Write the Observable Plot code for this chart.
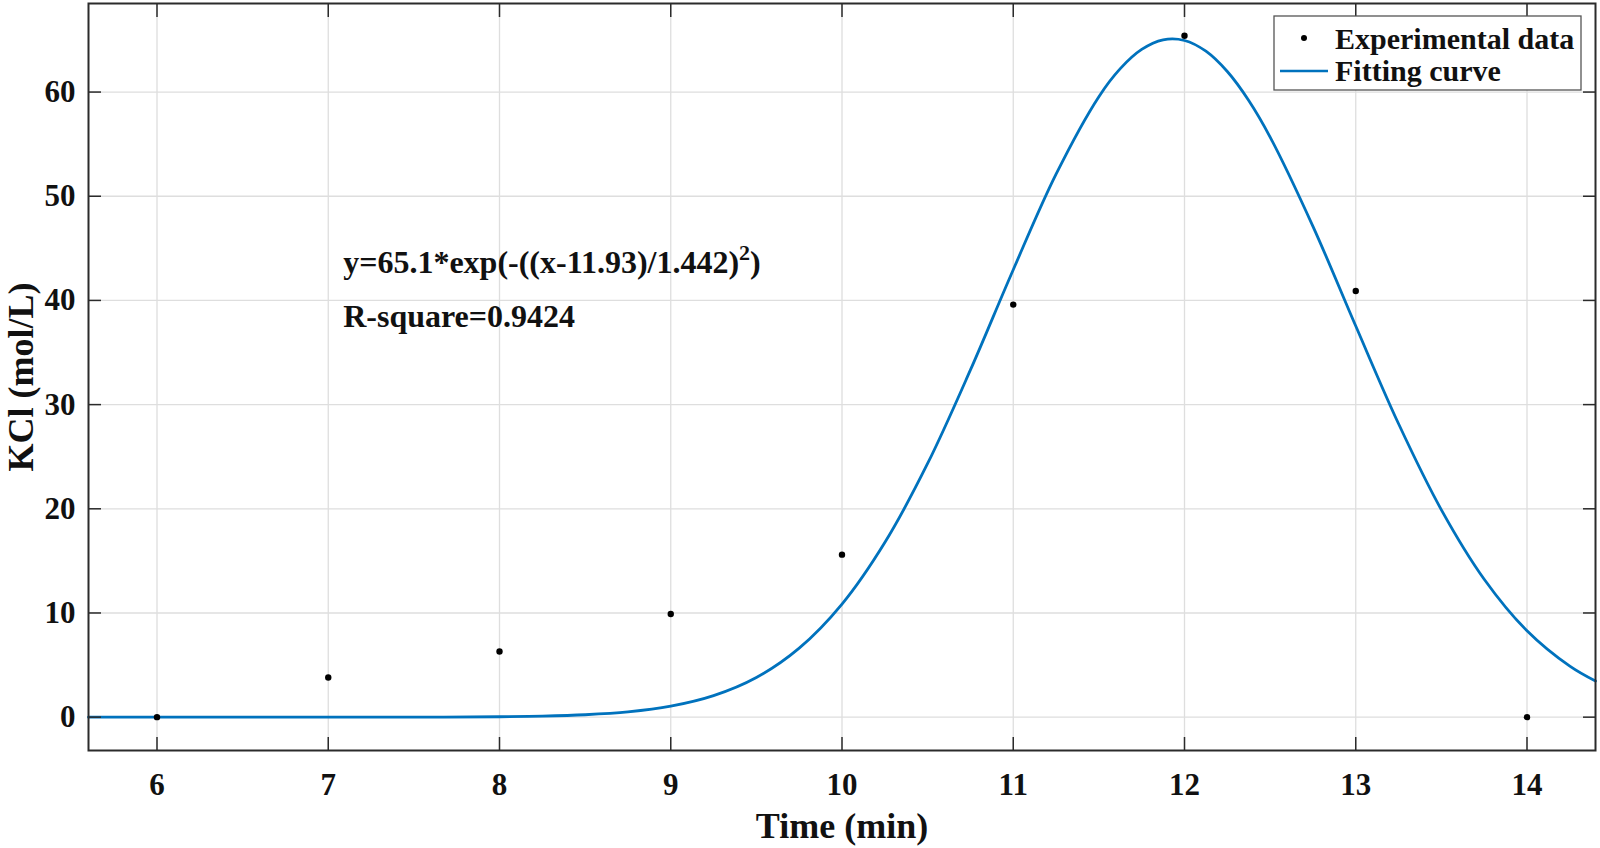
<!DOCTYPE html>
<html><head><meta charset="utf-8">
<script src="https://cdn.jsdelivr.net/npm/d3@7"></script>
<script src="https://cdn.jsdelivr.net/npm/@observablehq/plot@0.6"></script>
<style>body{margin:0;background:#fff} svg{display:block}</style>
</head><body><div id="chart"></div>
<script>
const expTime = [6, 7, 8, 9, 10, 11, 12, 13, 14];
const expKCl  = [0, 3.8, 6.3, 9.9, 15.6, 39.6, 65.4, 40.9, 0];

// Fitting curve samples
const fitTime = [5.6, 6, 6.5, 7, 7.5, 8, 8.25, 8.5, 8.75, 9, 9.25, 9.5, 9.75, 10, 10.25, 10.5, 10.75, 11, 11.25, 11.5, 11.625, 11.75, 11.875, 12, 12.125, 12.25, 12.375, 12.5, 12.75, 13, 13.25, 13.5, 13.75, 14, 14.25, 14.4];
const fitKCl  = [0, 0, 0, 0, 0.001, 0.04, 0.10, 0.23, 0.50, 1.05, 2.06, 3.80, 6.62, 10.85, 16.76, 24.35, 33.33, 42.95, 52.12, 59.56, 62.25, 64.09, 65.01, 64.95, 63.92, 61.97, 59.19, 55.68, 47.11, 37.54, 28.16, 19.90, 13.24, 8.29, 4.89, 3.46];

const xTicks = [6, 7, 8, 9, 10, 11, 12, 13, 14];
const yTicks = [0, 10, 20, 30, 40, 50, 60];

const xLabel = "Time (min)";
const yLabel = "KCl (mol/L)";
const legendLabels = ["Experimental data", "Fitting curve"];
const eqText = "y=65.1*exp(-((x-11.93)/1.442)";
const eqSup = "2";
const eqEnd = ")";
const rsqText = "R-square=0.9424";

const expData = expTime.map((t, i) => ({t, c: expKCl[i]}));
const fitData = fitTime.map((t, i) => ({t, c: fitKCl[i]}));

const font = "'Liberation Serif','Times New Roman',serif";
const blue = "#0072BD";
const axisColor = "#2b2b2b";
const gridColor = "#dedede";

const plot = Plot.plot({
  width: 1600, height: 848,
  marginLeft: 88, marginRight: 5, marginTop: 3, marginBottom: 98,
  style: {fontFamily: font, fontWeight: "bold", fontSize: "30px", color: "#111", background: "#fff", overflow: "visible"},
  x: {domain: [5.6, 14.4]},
  y: {domain: [-3.2, 68.5]},
  marks: [
    Plot.gridX(xTicks, {stroke: gridColor, strokeOpacity: 1, strokeWidth: 1.3}),
    Plot.gridY(yTicks, {stroke: gridColor, strokeOpacity: 1, strokeWidth: 1.3}),
    Plot.line(fitData, {x: "t", y: "c", stroke: blue, strokeWidth: 2.8, curve: "catmull-rom"}),
    Plot.dot(expData, {x: "t", y: "c", r: 3.2, fill: "#000", stroke: null}),
    // tick labels
    Plot.axisX(xTicks, {anchor: "bottom", tickSize: 0, tickPadding: 22, fontSize: 31, tickFormat: d => String(d), label: null, fill: "#111"}),
    Plot.axisY(yTicks, {anchor: "left", tickSize: 0, tickPadding: 13, fontSize: 31, tickFormat: d => String(d), label: null, fill: "#111"}),
    // inward ticks on all four sides
    Plot.axisX(xTicks, {anchor: "bottom", tickSize: -13, tickFormat: () => "", label: null, stroke: axisColor, strokeWidth: 1.5}),
    Plot.axisX(xTicks, {anchor: "top", tickSize: -13, tickFormat: () => "", label: null, stroke: axisColor, strokeWidth: 1.5}),
    Plot.axisY(yTicks, {anchor: "left", tickSize: -13, tickFormat: () => "", label: null, stroke: axisColor, strokeWidth: 1.5}),
    Plot.axisY(yTicks, {anchor: "right", tickSize: -13, tickFormat: () => "", label: null, stroke: axisColor, strokeWidth: 1.5}),
    Plot.frame({stroke: axisColor, strokeWidth: 2}),
    // axis titles
    Plot.text([xLabel], {text: d => d, frameAnchor: "bottom", dy: 87, lineAnchor: "bottom", textAnchor: "middle", fontSize: 36, fill: "#111"}),
    Plot.text([yLabel], {text: d => d, frameAnchor: "left", dx: -56, rotate: -90, lineAnchor: "bottom", textAnchor: "middle", fontSize: 36, fill: "#111"})
  ]
});
document.getElementById("chart").append(plot);

const svg = d3.select(plot);
const sx = plot.scale("x"), sy = plot.scale("y");

// annotation
const ax = sx.apply(7.09), ay1 = sy.apply(42.6), ay2 = sy.apply(37.4);
const t1 = svg.append("text").attr("x", ax).attr("y", ay1).attr("text-anchor", "start")
  .attr("font-family", font).attr("font-weight", "bold").attr("font-size", 32).attr("fill", "#111");
t1.append("tspan").text(eqText);
t1.append("tspan").attr("dy", -13).attr("font-size", 22).text(eqSup);
t1.append("tspan").attr("dy", 13).text(eqEnd);
svg.append("text").attr("x", ax).attr("y", ay2).attr("text-anchor", "start")
  .attr("font-family", font).attr("font-weight", "bold").attr("font-size", 32).attr("fill", "#111")
  .text(rsqText);

// legend
const lg = svg.append("g");
lg.append("rect").attr("x", 1274).attr("y", 16).attr("width", 307).attr("height", 74)
  .attr("fill", "#fff").attr("stroke", "#555").attr("stroke-width", 1.3);
lg.append("circle").attr("cx", 1304).attr("cy", 38).attr("r", 3).attr("fill", "#000");
lg.append("line").attr("x1", 1280).attr("x2", 1328).attr("y1", 71).attr("y2", 71)
  .attr("stroke", blue).attr("stroke-width", 2.6);
legendLabels.forEach((s, i) => {
  lg.append("text").attr("x", 1335).attr("y", 38 + i * 32).attr("dy", "0.35em").attr("text-anchor", "start")
    .attr("font-family", font).attr("font-weight", "bold").attr("font-size", 30).attr("fill", "#111")
    .text(s);
});
</script>
</body></html>
